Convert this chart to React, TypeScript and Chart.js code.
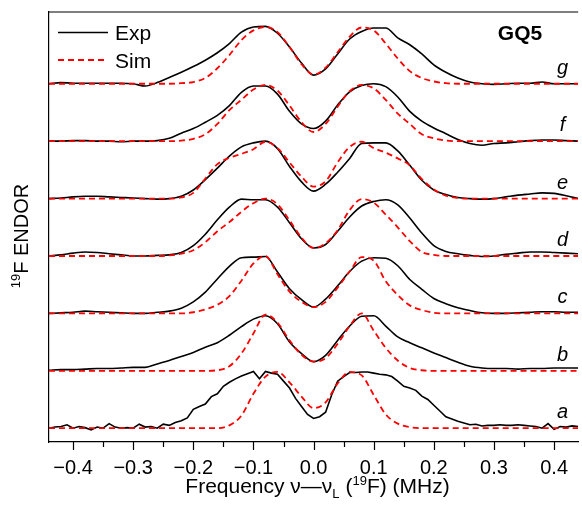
import React, { useEffect, useRef } from "react";
import { Chart, registerables } from "chart.js";

Chart.register(...registerables);

// Frequency grids (MHz)
const freqGrid = [
  -0.44, -0.42, -0.4, -0.38, -0.36, -0.34, -0.32, -0.3, -0.28, -0.26,
  -0.24, -0.22, -0.2, -0.18, -0.16, -0.14, -0.12, -0.1, -0.08, -0.06,
  -0.04, -0.02, 0, 0.02, 0.04, 0.06, 0.08, 0.1, 0.12, 0.14,
  0.16, 0.18, 0.2, 0.22, 0.24, 0.26, 0.28, 0.3, 0.32, 0.34,
  0.36, 0.38, 0.4, 0.42, 0.44,
];
const freqFine = [
  -0.44, -0.43, -0.42, -0.41, -0.4, -0.39, -0.38, -0.37, -0.36, -0.35,
  -0.34, -0.33, -0.32, -0.31, -0.3, -0.29, -0.28, -0.27, -0.26, -0.25,
  -0.24, -0.23, -0.22, -0.21, -0.2, -0.19, -0.18, -0.17, -0.16, -0.15,
  -0.14, -0.13, -0.12, -0.11, -0.1, -0.09, -0.08, -0.07, -0.06, -0.05,
  -0.04, -0.03, -0.02, -0.01, 0, 0.01, 0.02, 0.03, 0.04, 0.05,
  0.06, 0.07, 0.08, 0.09, 0.1, 0.11, 0.12, 0.13, 0.14, 0.15,
  0.16, 0.17, 0.18, 0.19, 0.2, 0.21, 0.22, 0.23, 0.24, 0.25,
  0.26, 0.27, 0.28, 0.29, 0.3, 0.31, 0.32, 0.33, 0.34, 0.35,
  0.36, 0.37, 0.38, 0.39, 0.4, 0.41, 0.42, 0.43, 0.44,
];

const traceLabels = ["a", "b", "c", "d", "e", "f", "g"];
const traceOffsets = [0, 1, 2, 3, 4, 5, 6];

// Experimental spectra (normalised)
const expA = [
  0, 0.02, 0.03, 0.06, 0, 0.03, 0.01, -0.03, 0.02, 0,
  0.08, 0.02, 0, 0.01, 0, 0.07, 0.02, 0.03, 0, 0.07,
  0.05, 0.1, 0.13, 0.18, 0.33, 0.38, 0.42, 0.55, 0.6, 0.73,
  0.8, 0.86, 0.91, 0.95, 0.99, 0.86, 0.99, 0.96, 0.94, 0.82,
  0.7, 0.52, 0.38, 0.24, 0.17, 0.2, 0.28, 0.58, 0.82, 0.9,
  0.97, 0.97, 0.98, 0.98, 0.96, 0.94, 0.93, 0.9, 0.82, 0.73,
  0.7, 0.66, 0.56, 0.5, 0.4, 0.3, 0.2, 0.16, 0.12, 0.09,
  0.06, 0.07, 0.04, 0.05, 0.05, 0.06, 0.05, 0.05, 0.06, 0.05,
  0.04, 0.03, 0, 0.08, -0.02, 0.03, 0.02, 0.04, 0.03,
];
const expB = [
  0.01, 0.02, 0.02, 0.03, 0.04, 0.04, 0.05, 0.06, 0.06, 0.12,
  0.18, 0.25, 0.32, 0.41, 0.49, 0.62, 0.77, 0.9, 0.96, 0.82,
  0.5, 0.3, 0.16, 0.27, 0.53, 0.78, 0.95, 0.96, 0.78, 0.59,
  0.49, 0.4, 0.31, 0.23, 0.15, 0.08, 0.05, 0.04, 0.04, 0.03,
  0.04, 0.04, 0.05, 0.05, 0.05,
];
const expC = [
  0, 0.01, 0.02, 0.04, 0.03, 0.02, 0.01, 0, 0, 0.02,
  0.04, 0.09, 0.2, 0.37, 0.6, 0.82, 0.97, 0.98, 0.99, 0.72,
  0.43, 0.24, 0.11, 0.25, 0.48, 0.73, 0.91, 0.97, 0.96, 0.83,
  0.59, 0.42, 0.26, 0.17, 0.1, 0.05, 0.01, 0, 0, 0.01,
  0.02, 0.03, 0.03, 0.02, 0.02,
];
const expD = [
  0, 0.02, 0.05, 0.07, 0.06, 0.04, 0.02, 0, 0, 0.01,
  0.02, 0.06, 0.18, 0.38, 0.63, 0.85, 0.99, 0.98, 0.98, 0.85,
  0.58, 0.3, 0.14, 0.2, 0.43, 0.68, 0.87, 0.95, 0.98, 0.89,
  0.66, 0.4, 0.18, 0.08, 0.04, 0.01, -0.01, 0, 0.03, 0.05,
  0.07, 0.07, 0.06, 0.05, 0.04,
];
const expE = [
  0, 0.01, 0.03, 0.04, 0.04, 0.03, 0.02, 0.01, 0, -0.01,
  0, 0.04, 0.15, 0.33, 0.53, 0.74, 0.9, 0.97, 1.0, 0.87,
  0.56, 0.29, 0.13, 0.25, 0.46, 0.7, 0.96, 0.97, 0.97, 0.83,
  0.58, 0.32, 0.15, 0.07, 0.02, 0, -0.01, 0, 0.03, 0.06,
  0.08, 0.1, 0.09, 0.05, 0,
];
const expF = [
  0, 0, 0.01, 0.01, 0, 0, -0.01, 0, 0, 0.01,
  0.05, 0.14, 0.22, 0.33, 0.45, 0.62, 0.85, 0.96, 0.96, 0.82,
  0.52, 0.3, 0.22, 0.35, 0.63, 0.86, 0.97, 1.0, 0.95, 0.77,
  0.52, 0.35, 0.23, 0.13, 0.03, -0.04, -0.07, -0.04, -0.03, -0.01,
  0.01, 0.02, 0.02, 0.01, 0,
];
const expG = [
  0, 0.02, 0.01, 0.01, 0.01, 0.01, 0.01, 0, -0.04, 0.02,
  0.11, 0.2, 0.3, 0.41, 0.54, 0.7, 0.9, 0.99, 1.0, 0.88,
  0.64, 0.36, 0.15, 0.26, 0.52, 0.78, 0.91, 0.97, 0.97, 0.8,
  0.68, 0.52, 0.33, 0.2, 0.1, 0.03, 0, -0.01, 0, 0.01,
  0.01, 0.03, 0, 0, 0,
];

// Simulated spectra (normalised)
const simA = [
  0, 0, 0, 0, 0, 0, 0, 0, 0, 0,
  0, 0, 0, 0, 0, 0.05, 0.22, 0.6, 0.9, 0.98,
  0.8, 0.55, 0.35, 0.45, 0.78, 0.98, 0.92, 0.58, 0.24, 0.08,
  0.02, 0, 0, 0, 0, 0, 0, 0, 0, 0,
  0, 0, 0, 0, 0,
];
const simB = [
  0, 0, 0, 0, 0, 0, 0, 0, 0, 0,
  0, 0, 0, 0, 0.01, 0.08, 0.3, 0.65, 0.98, 0.84,
  0.53, 0.28, 0.16, 0.22, 0.47, 0.78, 1.0, 0.7, 0.4, 0.18,
  0.05, 0.01, 0, 0, 0, 0, 0, 0, 0, 0,
  0, 0, 0, 0, 0,
];
const simC = [
  0, 0, 0, 0, 0, 0, 0, 0, 0, 0,
  0, 0, 0.02, 0.07, 0.15, 0.3, 0.57, 0.87, 1.0, 0.68,
  0.38, 0.2, 0.11, 0.2, 0.45, 0.73, 0.98, 0.92, 0.56, 0.32,
  0.14, 0.06, 0.01, 0, 0, 0, 0, 0, 0, 0,
  0, 0, 0, 0, 0,
];
const simD = [
  0, 0, 0, 0, 0, 0, 0, 0, 0, 0,
  0.01, 0.04, 0.1, 0.24, 0.43, 0.59, 0.77, 0.92, 1.0, 0.9,
  0.62, 0.32, 0.14, 0.22, 0.45, 0.8, 0.99, 0.93, 0.72, 0.5,
  0.26, 0.07, 0.02, 0, 0, 0, 0, 0, 0, 0,
  0, 0, 0, 0, 0,
];
const simE = [
  0, 0, 0, 0, 0, 0, 0, 0, 0, 0,
  0, 0.02, 0.1, 0.35, 0.6, 0.71, 0.78, 0.86, 0.99, 0.88,
  0.63, 0.38, 0.21, 0.3, 0.63, 0.9, 0.99, 0.88, 0.8, 0.7,
  0.58, 0.34, 0.16, 0.05, 0.01, 0, 0, 0, 0, 0,
  0, 0, 0, 0, 0,
];
const simF = [
  0, 0, 0, 0, 0, 0, 0, 0, 0, 0,
  0, 0.01, 0.04, 0.12, 0.3, 0.54, 0.72, 0.9, 0.98, 0.88,
  0.62, 0.33, 0.16, 0.3, 0.6, 0.87, 0.98, 0.92, 0.72, 0.48,
  0.3, 0.12, 0.05, 0.01, 0, 0, 0, 0, 0, 0,
  0, 0, 0, 0, 0,
];
const simG = [
  0, 0, 0, 0, 0, 0, 0, 0, 0, 0,
  0, 0.01, 0.03, 0.1, 0.27, 0.5, 0.76, 0.93, 0.99, 0.9,
  0.64, 0.34, 0.16, 0.28, 0.55, 0.82, 0.98, 0.93, 0.7, 0.44,
  0.22, 0.1, 0.04, 0.01, 0, 0, 0, 0, 0, 0,
  0, 0, 0, 0, 0,
];

const expSeries = [expA, expB, expC, expD, expE, expF, expG];
const expGrids = [freqFine, freqGrid, freqGrid, freqGrid, freqGrid, freqGrid, freqGrid];
const simSeries = [simA, simB, simC, simD, simE, simF, simG];

const xMajorTicks = [-0.4, -0.3, -0.2, -0.1, 0, 0.1, 0.2, 0.3, 0.4];
const xMinorTicks = [-0.35, -0.25, -0.15, -0.05, 0.05, 0.15, 0.25, 0.35];

const FONT = "'Liberation Sans', Arial, Helvetica, sans-serif";

function fmtTick(v: number): string {
  const s = Math.abs(v).toFixed(1);
  return v < -1e-9 ? "\u2212" + s : s;
}

const decorPlugin = {
  id: "decor",
  afterDraw(chart: any) {
    const { ctx, chartArea: ca, scales } = chart;
    const xs = scales.x;
    const ys = scales.y;
    ctx.save();
    ctx.strokeStyle = "#000";
    ctx.lineWidth = 1.2;
    // top frame line
    ctx.beginPath();
    ctx.moveTo(ca.left, ca.top);
    ctx.lineTo(ca.right, ca.top);
    ctx.stroke();
    // ticks
    ctx.beginPath();
    xMajorTicks.forEach((v) => {
      const px = Math.round(xs.getPixelForValue(v)) + 0.5;
      ctx.moveTo(px, ca.bottom);
      ctx.lineTo(px, ca.bottom + 8);
    });
    xMinorTicks.forEach((v) => {
      const px = Math.round(xs.getPixelForValue(v)) + 0.5;
      ctx.moveTo(px, ca.bottom);
      ctx.lineTo(px, ca.bottom + 5);
    });
    ctx.stroke();

    // trace letters
    ctx.fillStyle = "#000";
    ctx.font = `italic 20px ${FONT}`;
    ctx.textAlign = "center";
    ctx.textBaseline = "alphabetic";
    traceLabels.forEach((lbl, i) => {
      const px = xs.getPixelForValue(0.414);
      const py = ys.getPixelForValue(traceOffsets[i]) - 10;
      ctx.fillText(lbl, px, py);
    });

    // GQ5
    ctx.font = `bold 21px ${FONT}`;
    ctx.textBaseline = "middle";
    ctx.fillText("GQ5", 520, 34);

    // legend
    ctx.textAlign = "left";
    ctx.font = `21px ${FONT}`;
    ctx.strokeStyle = "#000";
    ctx.lineWidth = 1.6;
    ctx.beginPath();
    ctx.moveTo(58, 32.5);
    ctx.lineTo(108, 32.5);
    ctx.stroke();
    ctx.fillText("Exp", 115, 34);
    ctx.strokeStyle = "#ff0000";
    ctx.lineWidth = 1.8;
    ctx.setLineDash([6, 4]);
    ctx.beginPath();
    ctx.moveTo(58, 60);
    ctx.lineTo(108, 60);
    ctx.stroke();
    ctx.setLineDash([]);
    ctx.fillText("Sim", 115, 62);

    // x title with sub/superscripts
    ctx.textBaseline = "alphabetic";
    const big = `21px ${FONT}`;
    const small = `13px ${FONT}`;
    const parts: [string, string, number][] = [
      ["Frequency \u03bd\u2014\u03bd", big, 0],
      ["L", small, 5],
      [" (", big, 0],
      ["19", small, -8],
      ["F) (MHz)", big, 0],
    ];
    let total = 0;
    parts.forEach(([t, f]) => {
      ctx.font = f;
      total += ctx.measureText(t).width;
    });
    let cx = 317.5 - total / 2;
    const baseY = 493;
    parts.forEach(([t, f, dy]) => {
      ctx.font = f;
      ctx.fillText(t, cx, baseY + dy);
      cx += ctx.measureText(t).width;
    });

    // y title
    ctx.translate(28, 236);
    ctx.rotate(-Math.PI / 2);
    const yParts: [string, string, number][] = [
      ["19", `13px ${FONT}`, -8],
      ["F ENDOR", `20px ${FONT}`, 0],
    ];
    let ytot = 0;
    yParts.forEach(([t, f]) => {
      ctx.font = f;
      ytot += ctx.measureText(t).width;
    });
    let yx = -ytot / 2;
    yParts.forEach(([t, f, dy]) => {
      ctx.font = f;
      ctx.fillText(t, yx, dy);
      yx += ctx.measureText(t).width;
    });
    ctx.restore();
  },
};

export default function App() {
  const canvasRef = useRef<HTMLCanvasElement | null>(null);

  useEffect(() => {
    const canvas = canvasRef.current;
    if (!canvas) return;
    const datasets: any[] = [];
    traceLabels.forEach((lbl, i) => {
      datasets.push({
        label: `Sim ${lbl}`,
        data: freqGrid.map((f, k) => ({ x: f, y: simSeries[i][k] + traceOffsets[i] })),
        borderColor: "#ff0000",
        borderWidth: 1.8,
        borderDash: [6, 4],
        pointRadius: 0,
        fill: false,
        cubicInterpolationMode: "monotone",
        order: 0,
      });
      datasets.push({
        label: `Exp ${lbl}`,
        data: expGrids[i].map((f, k) => ({ x: f, y: expSeries[i][k] + traceOffsets[i] })),
        borderColor: "#000000",
        borderWidth: 1.6,
        pointRadius: 0,
        fill: false,
        cubicInterpolationMode: i === 0 ? "default" : "monotone",
        tension: 0,
        order: 1,
      });
    });

    const chart = new Chart(canvas, {
      type: "line",
      data: { datasets },
      options: {
        animation: false,
        responsive: false,
        devicePixelRatio: 1,
        layout: { padding: { top: 12, right: 0, bottom: 0, left: 0 } },
        plugins: {
          legend: { display: false },
          tooltip: { enabled: false },
        },
        scales: {
          x: {
            type: "linear",
            min: -0.44,
            max: 0.44,
            afterBuildTicks: (scale: any) => {
              scale.ticks = xMajorTicks.map((v) => ({ value: v }));
            },
            afterFit: (scale: any) => {
              scale.height = 67;
            },
            grid: { display: false, drawTicks: false },
            border: { display: true, color: "#000", width: 1.2 },
            ticks: {
              padding: 14,
              maxRotation: 0,
              autoSkip: false,
              color: "#000",
              font: { family: FONT, size: 20 },
              callback: (v: any) => fmtTick(Number(v)),
            },
          },
          y: {
            type: "linear",
            min: -0.24,
            max: 7.25,
            afterFit: (scale: any) => {
              scale.width = 49;
            },
            grid: { display: false, drawTicks: false },
            border: { display: true, color: "#000", width: 1.2 },
            ticks: { display: false },
          },
        },
      },
      plugins: [decorPlugin],
    } as any);
    return () => chart.destroy();
  }, []);

  return (
    <div style={{ position: "absolute", left: 0, top: 0, width: 582, height: 509, background: "#fff" }}>
      <canvas ref={canvasRef} width={582} height={509} style={{ display: "block" }} />
    </div>
  );
}
